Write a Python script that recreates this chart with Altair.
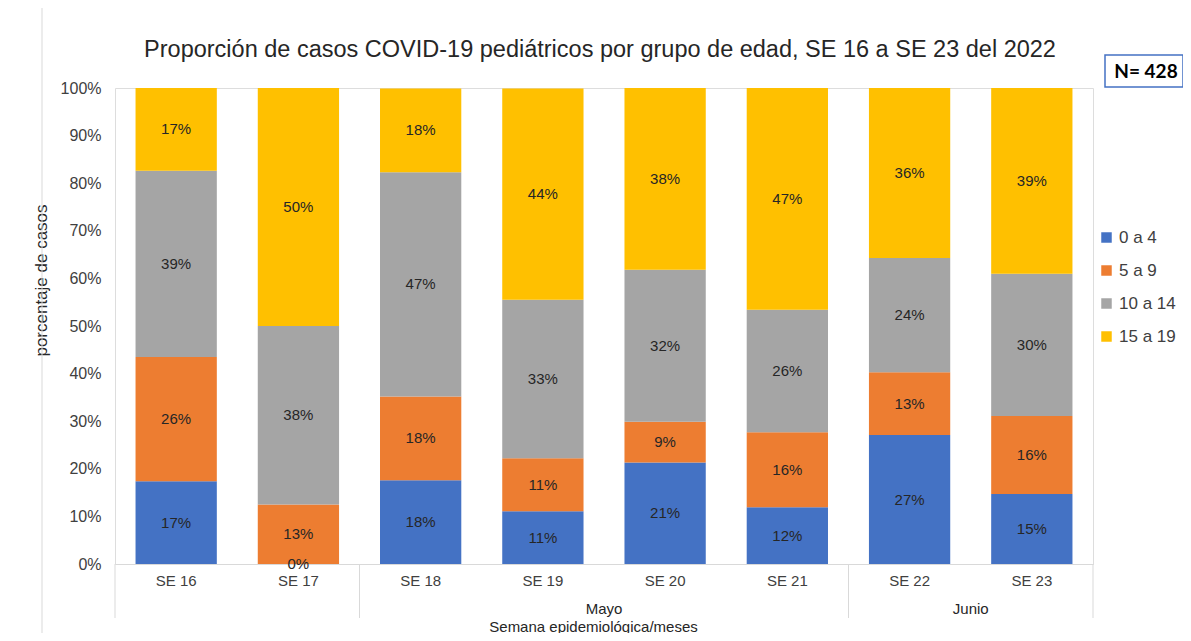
import altair as alt
import pandas as pd

weeks = ["SE 16", "SE 17", "SE 18", "SE 19", "SE 20", "SE 21", "SE 22", "SE 23"]
groups = ["0 a 4", "5 a 9", "10 a 14", "15 a 19"]
colors = ["#4472C4", "#ED7D31", "#A5A5A5", "#FFC000"]

pct_0_4 = [17.4, 0.0, 17.6, 11.1, 21.3, 11.9, 27.1, 14.7]
pct_5_9 = [26.1, 12.5, 17.6, 11.1, 8.6, 15.8, 13.2, 16.4]
pct_10_14 = [39.1, 37.5, 47.1, 33.3, 31.9, 25.7, 24.0, 29.9]
pct_15_19 = [17.4, 50.0, 17.6, 44.4, 38.2, 46.6, 35.7, 39.0]

months = ["Mayo", "Junio"]
month_centers = [4, 7]          # position on an 8-week axis
separators = [0, 2, 6, 8]       # month group boundaries on the 8-week axis
N_TOTAL = 428
TITLE = "Proporción de casos COVID-19 pediátricos por grupo de edad, SE 16 a SE 23 del 2022"

FONT = "Liberation Sans"
TXT = "#404040"

rows = []
for gi, (g, vals) in enumerate(zip(groups, [pct_0_4, pct_5_9, pct_10_14, pct_15_19])):
    for w, v in zip(weeks, vals):
        rows.append({"week": w, "group": g, "idx": gi, "pct": v})
df = pd.DataFrame(rows)

W, H = 978, 476

xband = alt.Scale(domain=weeks, paddingInner=0.335, paddingOuter=0.168)
yscale = alt.Scale(domain=[0, 100], nice=False)

y_axis = alt.Axis(title="porcentaje de casos", values=list(range(0, 101, 10)),
                  labelExpr="datum.value + '%'", labelFontSize=16,
                  labelColor=TXT, labelFont=FONT, labelPadding=14,
                  ticks=False, tickSize=0, domain=False, grid=False,
                  titleFont=FONT, titleFontSize=17, titleFontWeight="normal",
                  titleColor="#262626", titleX=-74, titleY=192,
                  titleAlign="center", titleBaseline="middle", titleAngle=270)

base = alt.Chart(df)

bars = base.mark_bar().encode(
    x=alt.X("week:N", sort=weeks, scale=xband,
            axis=alt.Axis(title="Semana epidemiológica/meses", labelFontSize=15,
                          labelColor=TXT, labelFont=FONT, labelPadding=9, ticks=False,
                          tickSize=0, domainColor="#d9d9d9", domainWidth=1,
                          titleFont=FONT, titleFontSize=15, titleFontWeight="normal",
                          titleColor="#262626", titleBaseline="middle", titleY=62,
                          titleX=478, titleAlign="center", labelAngle=0)),
    y=alt.Y("pct:Q", stack="zero", scale=yscale, axis=y_axis),
    color=alt.Color("group:N", sort=groups,
                    scale=alt.Scale(domain=groups, range=colors),
                    legend=alt.Legend(title=None, orient="none", legendX=983, legendY=141,
                                      symbolType="square", symbolSize=110,
                                      symbolStrokeWidth=0, labelFontSize=17,
                                      labelFont=FONT, labelColor=TXT, rowPadding=15,
                                      labelOffset=4)),
    order=alt.Order("idx:Q", sort="ascending"),
)

texts = base.transform_window(
    cum="sum(pct)", groupby=["week"], sort=[{"field": "idx"}], frame=[None, 0]
).transform_calculate(
    mid="datum.cum - datum.pct / 2",
    label="format(datum.pct, '.0f') + '%'",
).mark_text(font=FONT, fontSize=15, color="#262626", baseline="middle").encode(
    x=alt.X("week:N", sort=weeks, scale=xband, axis=None),
    y=alt.Y("mid:Q", scale=yscale, axis=y_axis),
    text="label:N",
)

sep_df = pd.DataFrame({"pos": separators})
seps = alt.Chart(sep_df).mark_rule(color="#d9d9d9", strokeWidth=1).encode(
    x=alt.X("pos:Q", scale=alt.Scale(domain=[0, 8], nice=False, zero=False), axis=None),
    y=alt.value(H),
    y2=alt.value(H + 54),
)

month_df = pd.DataFrame({"pos": month_centers, "month": months})
month_txt = alt.Chart(month_df).mark_text(font=FONT, fontSize=15, color="#262626",
                                          baseline="middle").encode(
    x=alt.X("pos:Q", scale=alt.Scale(domain=[0, 8], nice=False, zero=False), axis=None),
    y=alt.value(H + 45),
    text="month:N",
)

n_df = pd.DataFrame({"label": [f"N= {N_TOTAL}"], "title": [TITLE]})
n_box = alt.Chart(n_df).mark_rect(fill="white", stroke="#4472C4", strokeWidth=1.5).encode(
    x=alt.value(990), x2=alt.value(1068), y=alt.value(-33), y2=alt.value(-1),
)
n_txt = alt.Chart(n_df).mark_text(font="Lato", fontSize=19,
                                   fontWeight="bold", color="#000000",
                                   baseline="middle").encode(
    x=alt.value(1031), y=alt.value(-16), text="label:N",
)
title_txt = alt.Chart(n_df).mark_text(font=FONT, fontSize=23.5, color="#262626",
                                       baseline="middle", align="center").encode(
    x=alt.value(485), y=alt.value(-38), text="title:N",
)

frame_df = pd.DataFrame({"a": [0]})
frame_line = alt.Chart(frame_df).mark_rule(color="#d9d9d9", strokeWidth=1).encode(
    x=alt.value(-73), y=alt.value(-80), y2=alt.value(H + 69),
)

chart = alt.layer(frame_line, bars, texts, seps, month_txt, n_box, n_txt, title_txt).resolve_scale(
    x="independent"
).properties(
    width=W, height=H,
    autosize=alt.AutoSizeParams(type="none"),
    padding={"left": 107, "top": 80, "right": 90, "bottom": 69},
).configure_view(stroke=None).configure(background="white")

chart.save("out.html", embed_options={"renderer": "svg", "actions": False})
